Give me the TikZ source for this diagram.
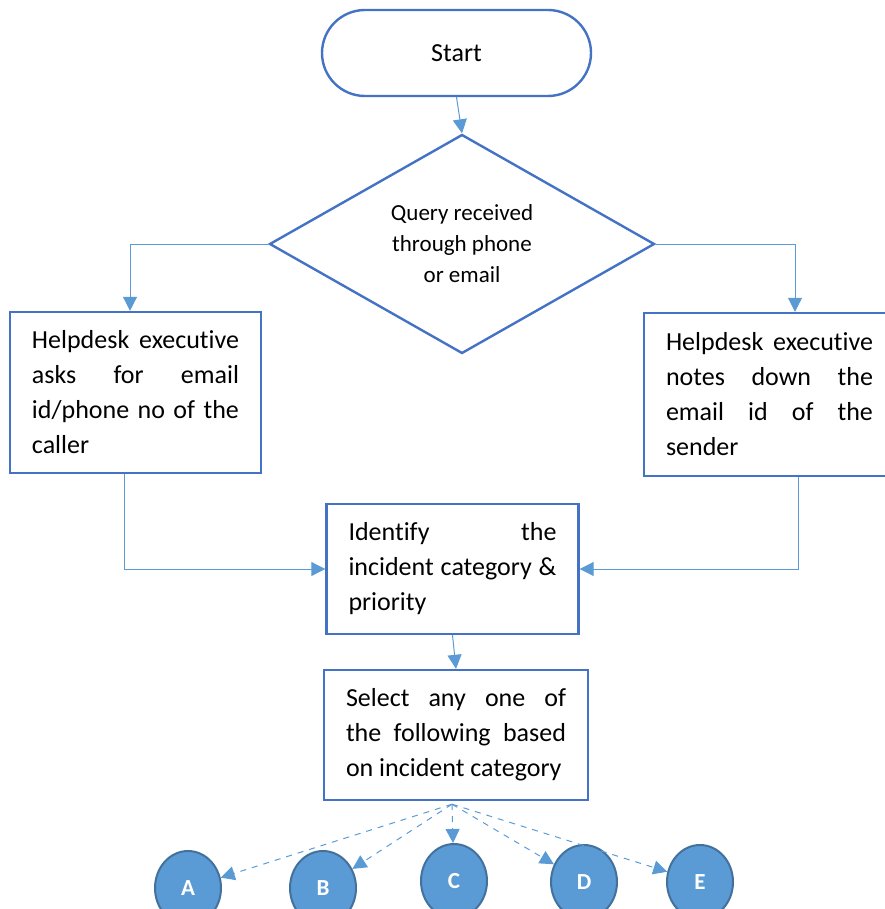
\documentclass[tikz,border=0pt]{standalone}
\usepackage{fontspec}
\setmainfont{Carlito}[Ligatures=CommonOff]
\usetikzlibrary{shapes.geometric,arrows.meta}
\definecolor{boxblue}{HTML}{4472C4}
\definecolor{linkblue}{HTML}{5B9BD5}
\definecolor{ringblue}{HTML}{41719C}
\hyphenpenalty=10000
\tolerance=10000

\begin{document}
\begin{tikzpicture}[x=0.5pt,y=-0.5pt,
	stepbox/.style={draw=boxblue,line width=1.2pt,rectangle,inner xsep=11pt,align=justify,font=\fontsize{13}{17.5}\selectfont},
	link/.style={draw=linkblue,line width=0.5pt,-{Triangle[width=7pt,length=7pt]}},
	catlink/.style={link,dashed},
	category/.style={ellipse,draw=ringblue,fill=linkblue,line width=1pt,minimum width=33pt,minimum height=37pt,inner sep=0pt,text=white,font=\fontsize{11.5}{13}\selectfont\bfseries}]
	\useasboundingbox (0,0) rectangle (884,909);

	\node[draw=boxblue,line width=1.2pt,rounded corners=21.5pt,minimum width=134.5pt,minimum height=43pt,font=\fontsize{13}{17.5}\selectfont] (start) at (456.5,53) {Start};
	\node[diamond,draw=boxblue,line width=1.2pt,aspect=1.76,inner sep=0pt,minimum width=192.5pt,minimum height=109.5pt,align=center,font=\fontsize{11.5}{15.5}\selectfont] (query) at (462,244) {Query received\\through phone\\or email};

	\node[stepbox,text width=103.5pt,minimum height=80.5pt] (askid) at (135.5,392.5) {Helpdesk executive asks for email id/phone no of the caller};
	\node[stepbox,text width=103.5pt,minimum height=81.5pt] (noteid) at (769.5,394.5) {Helpdesk executive notes down the email id of the sender};
	\node[stepbox,text width=104pt,minimum height=65pt] (identify) at (452.5,569) {Identify the\linebreak incident category \&\linebreak priority};
	\node[stepbox,text width=110pt,minimum height=65pt] (select) at (456,735) {Select any one of\linebreak the following based\linebreak on incident category};

	\node[category] (catA) at (188,888) {A};
	\node[category] (catB) at (323,888) {B};
	\node[category] (catC) at (454,881) {C};
	\node[category] (catD) at (584,882) {D};
	\node[category] (catE) at (700,882) {E};

	\draw[link] (start.south) -- (query.north);
	\draw[link] (query.west) -| ([xshift=-2.75pt]askid.north);
	\draw[link] (query.east) -| ([xshift=12.75pt]noteid.north);
	\draw[link] ([xshift=-5.75pt]askid.south) |- (identify.west);
	\draw[link] ([xshift=14.25pt]noteid.south) |- (identify.east);
	\draw[link] (identify.south) -- (select.north);

	\coordinate (fan) at ([xshift=-2pt,yshift=-1.5pt]select.south);
	\foreach \cat in {A,B,C,D,E}
		\draw[catlink] (fan) -- (cat\cat);
\end{tikzpicture}
\end{document}
